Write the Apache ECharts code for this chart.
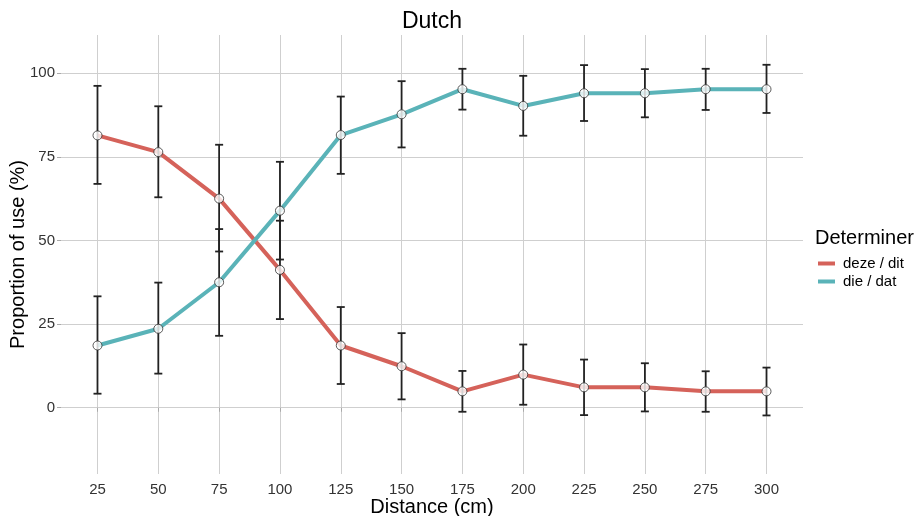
<!DOCTYPE html>
<html>
<head>
<meta charset="utf-8">
<script src="https://cdn.jsdelivr.net/npm/echarts@6/dist/echarts.min.js"></script>
<style>html,body{margin:0;padding:0;background:#fff}#c{width:914px;height:516px}</style>
</head>
<body>
<div id="c"></div>
<script>
const distances = [25, 50, 75, 100, 125, 150, 175, 200, 225, 250, 275, 300];
const yTicks = [0, 25, 50, 75, 100];

const dezeMean = [81.4, 76.4, 62.5, 41.2, 18.6, 12.4, 4.9, 9.9, 6.1, 6.1, 4.9, 4.9];
const dezeLow  = [66.9, 62.9, 46.7, 26.5, 7.1, 2.5, -1.2, 0.9, -2.2, -1.1, -1.2, -2.3];
const dezeHigh = [96.2, 90.1, 78.6, 55.9, 30.1, 22.3, 11.0, 18.9, 14.4, 13.3, 10.9, 12.0];

const dieMean = [18.6, 23.6, 37.5, 58.9, 81.5, 87.7, 95.2, 90.2, 94.0, 94.0, 95.2, 95.2];
const dieLow  = [4.2, 10.2, 21.5, 44.3, 69.9, 77.8, 89.1, 81.3, 85.7, 86.8, 89.0, 88.1];
const dieHigh = [33.3, 37.4, 53.4, 73.5, 93.0, 97.6, 101.3, 99.2, 102.4, 101.2, 101.3, 102.5];

const seriesNames = ['deze / dit', 'die / dat'];
const RED = '#D5625A';
const TEAL = '#5AB3B8';
const FONT = '"Liberation Sans", Arial, sans-serif';

function pairs(ys) { return distances.map((d, i) => [d, ys[i]]); }
function bars(lo, hi) { return distances.map((d, i) => [d, lo[i], hi[i]]); }

function renderErr(params, api) {
  const x = api.value(0), lo = api.value(1), hi = api.value(2);
  const a = api.coord([x, hi]), b = api.coord([x, lo]);
  const hw = 4;
  const st = { stroke: '#222', lineWidth: 1.8 };
  return {
    type: 'group',
    children: [
      { type: 'line', shape: { x1: a[0], y1: a[1], x2: b[0], y2: b[1] }, style: st },
      { type: 'line', shape: { x1: a[0] - hw, y1: a[1], x2: a[0] + hw, y2: a[1] }, style: st },
      { type: 'line', shape: { x1: b[0] - hw, y1: b[1], x2: b[0] + hw, y2: b[1] }, style: st }
    ]
  };
}

const chart = echarts.init(document.getElementById('c'), null, { renderer: 'canvas' });
chart.setOption({
  backgroundColor: '#fff',
  animation: false,
  textStyle: { fontFamily: FONT },
  title: [
    { text: 'Dutch', left: 427, top: 5, textAlign: 'center',
      textStyle: { fontSize: 23, fontWeight: 'normal', color: '#000', fontFamily: FONT } },
    { text: 'Determiner', left: 810, top: 223,
      textStyle: { fontSize: 20, fontWeight: 'normal', color: '#000', fontFamily: FONT } }
  ],
  legend: {
    data: seriesNames,
    orient: 'vertical',
    left: 813, top: 251,
    icon: 'rect',
    itemWidth: 17, itemHeight: 4,
    itemGap: 3,
    textStyle: { fontSize: 15, color: '#000', fontFamily: FONT, padding: [0, 0, 0, 3] }
  },
  grid: { left: 61, right: 111, top: 35, bottom: 42, containLabel: false, outerBoundsMode: 'none' },
  xAxis: {
    type: 'value', min: 10, max: 315,
    name: 'Distance (cm)', nameLocation: 'middle', nameGap: 23, nameMoveOverlap: false,
    nameTextStyle: { fontSize: 20, color: '#000', fontFamily: FONT },
    axisLine: { show: false },
    axisTick: { show: true, length: 4, customValues: distances, lineStyle: { color: '#aaa' } },
    axisLabel: { customValues: distances, fontSize: 15, color: '#333', margin: 8, fontFamily: FONT },
    splitLine: { show: true, lineStyle: { color: '#cfcfcf', width: 1 } }
  },
  yAxis: {
    type: 'value', min: -19.8, max: 111.4,
    name: 'Proportion of use (%)', nameLocation: 'middle', nameGap: 33, nameMoveOverlap: false,
    nameTextStyle: { fontSize: 20, color: '#000', fontFamily: FONT },
    axisLine: { show: false },
    axisTick: { show: true, length: 4, customValues: yTicks, lineStyle: { color: '#aaa' } },
    axisLabel: { customValues: yTicks, fontSize: 15, color: '#333', margin: 6, fontFamily: FONT },
    splitLine: { show: true, lineStyle: { color: '#cfcfcf', width: 1 } }
  },
  series: [
    { name: seriesNames[0], type: 'line', data: pairs(dezeMean), showSymbol: false, symbol: 'none',
      lineStyle: { color: RED, width: 4 }, itemStyle: { color: RED }, z: 2 },
    { name: seriesNames[1], type: 'line', data: pairs(dieMean), showSymbol: false, symbol: 'none',
      lineStyle: { color: TEAL, width: 4 }, itemStyle: { color: TEAL }, z: 2 },
    { name: 'err1', type: 'custom', renderItem: renderErr, data: bars(dezeLow, dezeHigh), z: 3 },
    { name: 'err2', type: 'custom', renderItem: renderErr, data: bars(dieLow, dieHigh), z: 3 },
    { name: 'pts1', type: 'scatter', data: pairs(dezeMean), symbolSize: 9, z: 4,
      itemStyle: { color: '#fff', borderColor: '#333', borderWidth: 1 } },
    { name: 'pts2', type: 'scatter', data: pairs(dieMean), symbolSize: 9, z: 4,
      itemStyle: { color: '#fff', borderColor: '#333', borderWidth: 1 } }
  ]
});
</script>
</body>
</html>
